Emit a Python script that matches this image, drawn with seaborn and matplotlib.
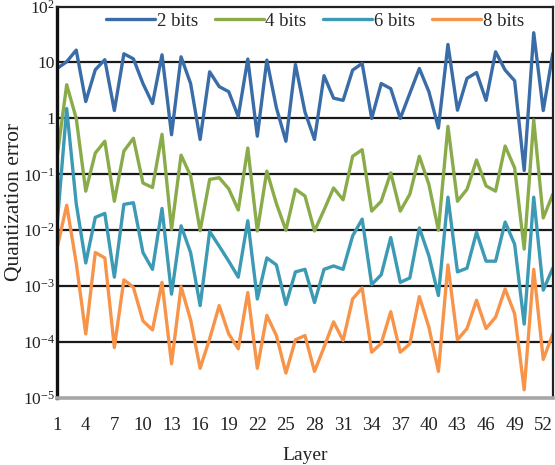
import numpy as np
import pandas as pd
import matplotlib
matplotlib.use("Agg")
import matplotlib.pyplot as plt
import seaborn as sns
from matplotlib.ticker import FixedLocator, FuncFormatter

layers = list(range(1, 54))

bits_2 = [7.8, 10.3, 16.6, 2.0, 7.4, 11.2, 1.38, 14.3, 11.6, 4.2,
          1.84, 13.7, 0.51, 12.6, 4.2, 0.42, 6.8, 3.7, 3.0, 1.08,
          11.5, 0.48, 11.0, 1.55, 0.39, 9.2, 1.3, 0.42, 5.8, 2.3,
          2.1, 7.3, 9.6, 1.0, 4.2, 3.4, 1.0, 2.8, 7.8, 3.0,
          0.67, 21.0, 1.4, 5.2, 6.6, 2.1, 15.5, 7.3, 4.7, 0.117,
          34.0, 1.38, 14.5]
bits_4 = [0.21, 4.0, 1.0, 0.05, 0.24, 0.39, 0.033, 0.26, 0.44, 0.07,
          0.058, 0.52, 0.0104, 0.22, 0.094, 0.0098, 0.081, 0.087, 0.055, 0.023,
          0.295, 0.0097, 0.114, 0.03, 0.01, 0.054, 0.041, 0.0097, 0.023, 0.057,
          0.035, 0.21, 0.275, 0.022, 0.033, 0.106, 0.022, 0.044, 0.21, 0.066,
          0.01, 0.72, 0.033, 0.054, 0.18, 0.062, 0.05, 0.32, 0.13, 0.0046,
          0.94, 0.0166, 0.044]
bits_6 = [0.0129, 1.5, 0.03, 0.0026, 0.017, 0.020, 0.00145, 0.029, 0.031, 0.004,
          0.002, 0.0245, 0.00072, 0.012, 0.004, 0.00045, 0.0095, 0.0052, 0.0028, 0.00145,
          0.0148, 0.00059, 0.0032, 0.0024, 0.00047, 0.0018, 0.002, 0.00051, 0.002, 0.0023,
          0.002, 0.0079, 0.0158, 0.00107, 0.0016, 0.0074, 0.00117, 0.0014, 0.011, 0.0035,
          0.00068, 0.039, 0.0018, 0.0021, 0.0092, 0.0028, 0.0028, 0.014, 0.0056, 0.00021,
          0.039, 0.00085, 0.0021]
bits_8 = [0.0049, 0.028, 0.0026, 0.00014, 0.004, 0.0032, 8e-5, 0.0013, 0.00095, 0.00024,
          0.000165, 0.00117, 4.1e-5, 0.00098, 0.00025, 3.4e-5, 0.000115, 0.00045, 0.00014, 7.6e-5,
          0.00077, 3.4e-5, 0.0003, 0.000131, 2.8e-5, 0.00011, 0.000131, 3e-5, 8.1e-5, 0.00023,
          0.000107, 0.00059, 0.00093, 6.6e-5, 9.5e-5, 0.00035, 6.6e-5, 9.3e-5, 0.00065, 0.000185,
          3e-5, 0.0024, 0.00011, 0.000175, 0.00056, 0.000175, 0.00028, 0.00089, 0.00032, 1.4e-5,
          0.002, 4.9e-5, 0.00014]

series_names = ["2 bits", "4 bits", "6 bits", "8 bits"]
colors = ["#3A6CA8", "#8AAB4A", "#3C9AB4", "#F7944A"]

df = pd.concat([
    pd.DataFrame({"Layer": layers, "error": vals, "bits": name})
    for name, vals in zip(series_names, [bits_2, bits_4, bits_6, bits_8])
])

sns.set_theme(style="white")
plt.rcParams["font.family"] = ["Liberation Serif", "DejaVu Serif"]
plt.rcParams["mathtext.fontset"] = "custom"
plt.rcParams["mathtext.rm"] = "Liberation Serif"

fig = plt.figure(figsize=(5.55, 4.65), dpi=100)
ax = fig.add_axes([0.103, 0.144, 0.893, 0.842])

sns.lineplot(data=df, x="Layer", y="error", hue="bits",
             palette=dict(zip(series_names, colors)), linewidth=2.4, ax=ax)

ax.set_yscale("log")
ax.set_ylim(1e-5, 1e2)
ax.set_xlim(1, 53)

decades = [1e-5, 1e-4, 1e-3, 1e-2, 1e-1, 1, 10, 100]
ax.yaxis.set_major_locator(FixedLocator(decades))
ax.yaxis.set_minor_locator(FixedLocator([]))


def fmt(v, pos):
    e = int(round(np.log10(v)))
    if e == 0:
        return "1"
    if e == 1:
        return "10"
    return r"$\mathregular{10^{%d}}$" % e


ax.yaxis.set_major_formatter(FuncFormatter(fmt))
ax.set_xticks(list(range(1, 53, 3)))

for d in decades[1:-1]:
    ax.axhline(d, color="#1a1a1a", linewidth=1.6, zorder=0)

ax.tick_params(axis="x", length=0, labelsize=13.5, colors="#222222", pad=14)
ax.tick_params(axis="y", length=0, labelsize=12.5, colors="#222222", pad=1.5)
ax.set_xlabel("Layer", fontsize=14, color="#222222", labelpad=9)
ax.set_ylabel("Quantization error", fontsize=15.5, color="#222222")
ax.yaxis.set_label_coords(-0.066, 0.5)

ax.spines["left"].set_color("#111111")
ax.spines["left"].set_linewidth(2.4)
ax.spines["bottom"].set_color("#A6A6A6")
ax.spines["bottom"].set_linewidth(2.6)
ax.spines["top"].set_color("#222222")
ax.spines["top"].set_linewidth(1.6)
ax.spines["right"].set_color("#222222")
ax.spines["right"].set_linewidth(1.6)

ax.legend(loc="upper center", bbox_to_anchor=(0.52, 1.018), ncol=4, frameon=False,
          fontsize=13.5, handlelength=2.6, handletextpad=0.1, columnspacing=0.9,
          borderaxespad=0.3)

fig.savefig("out.png", dpi=100)
